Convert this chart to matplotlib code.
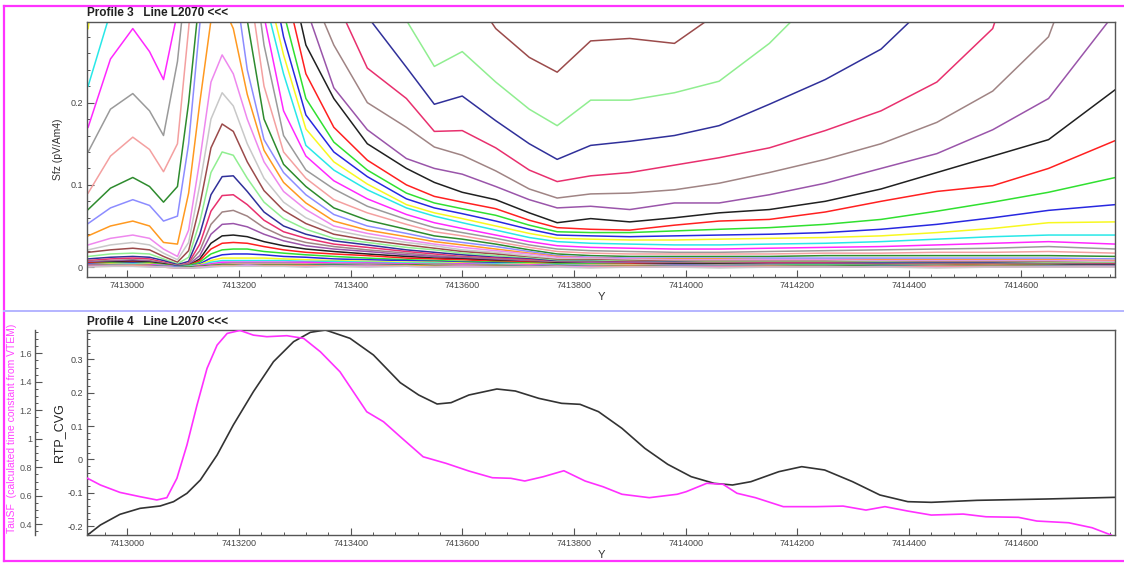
import matplotlib
matplotlib.use("Agg")
import matplotlib.pyplot as plt
from matplotlib.lines import Line2D
from matplotlib.ticker import MultipleLocator, FuncFormatter

plt.rcParams['font.family'] = ['Liberation Sans', 'DejaVu Sans']

# ---- Profile 3 : Sfz decay channels (values at shared stations, 0.5 = off the top) ----
station_y = [7412930, 7412970, 7413010, 7413040, 7413065, 7413090, 7413110, 7413130, 7413150, 7413170,
             7413190, 7413215, 7413245, 7413280, 7413320, 7413370, 7413430, 7413500, 7413550, 7413600,
             7413660, 7413720, 7413770, 7413830, 7413900, 7413980, 7414060, 7414150, 7414250, 7414350,
             7414450, 7414550, 7414650, 7414770]

sfz_channels = [
    [.5, .5, .5, .5, .5, .5, .5, .5, .5, .5,  .5, .5, .5, .5, .5, .5, .5, .5, .5, .35,
     .29, .255, .237, .275, .278, .272, .31, .5, .5, .5,  .5, .5, .5, .5],
    [.5, .5, .5, .5, .5, .5, .5, .5, .5, .5,  .5, .5, .5, .5, .5, .5, .5, .30, .244, .262,
     .225, .192, .172, .203, .203, .212, .226, .272, .34, .5,  .5, .5, .5, .5],
    [.5, .5, .5, .5, .5, .5, .5, .5, .5, .5,  .5, .5, .5, .5, .5, .5, .305, .243, .198, .208,
     .178, .150, .131, .148, .153, .160, .172, .198, .228, .265,  .33, .5, .5, .5],
    [.5, .5, .5, .5, .5, .5, .5, .5, .5, .5,  .5, .5, .5, .5, .5, .33, .242, .205, .165, .166,
     .145, .118, .104, .111, .115, .124, .133, .145, .166, .190,  .225, .29, .5, .5],
    [.5, .5, .5, .5, .5, .5, .5, .5, .5, .5,  .5, .5, .5, .5, .35, .27, .200, .170, .146, .136,
     .117, .095, .084, .089, .090, .094, .102, .115, .131, .150,  .176, .214, .28, .5],
    [.5, .5, .5, .5, .5, .5, .5, .5, .5, .5,  .5, .5, .5, .5, .316, .218, .167, .132, .120, .113,
     .098, .082, .072, .074, .070, .078, .078, .088, .102, .120,  .138, .167, .205, .31],
    [.5, .5, .5, .5, .5, .5, .5, .5, .5, .5,  .5, .5, .5, .39, .27, .205, .150, .120, .103, .091,
     .082, .066, .054, .059, .055, .060, .066, .070, .080, .095,  .115, .135, .155, .216],
    [.5, .5, .5, .5, .5, .5, .5, .5, .5, .5,  .5, .5, .5, .35, .235, .170, .130, .100, .086, .079,
     .071, .057, .048, .046, .045, .051, .056, .058, .067, .080,  .092, .099, .120, .154],
    [.5, .5, .5, .5, .5, .5, .5, .5, .5, .5,  .5, .5, .5, .31, .205, .152, .118, .090, .078, .071,
     .063, .051, .043, .042, .042, .044, .046, .048, .052, .058,  .068, .079, .091, .109],
    [.5, .5, .5, .5, .5, .5, .5, .5, .5, .5,  .5, .5, .40, .28, .185, .140, .110, .083, .072, .065,
     .056, .046, .039, .038, .037, .038, .039, .040, .042, .046,  .052, .060, .069, .076],
    [.29, .5, .5, .5, .5, .5, .5, .5, .5, .5,  .5, .5, .356, .258, .168, .128, .101, .076, .066, .059,
     .050, .041, .035, .034, .033, .033, .034, .035, .036, .038,  .042, .047, .054, .055],
    [.22, .31, .5, .5, .5, .5, .5, .5, .5, .5,  .5, .5, .33, .235, .148, .118, .094, .072, .062, .054,
     .045, .036, .031, .029, .028, .027, .027, .028, .029, .031,  .034, .037, .039, .039],
    [.170, .253, .290, .262, .228, .31, .5, .5, .5, .5,  .5, .5, .305, .19, .135, .105, .083, .064, .054, .047,
     .039, .031, .026, .024, .023, .022, .022, .023, .024, .025,  .027, .029, .031, .028],
    [.140, .192, .211, .190, .160, .25, .38, .5, .5, .5,  .5, .42, .27, .16, .118, .095, .074, .058, .048, .042,
     .035, .027, .022, .020, .019, .018, .018, .019, .020, .021,  .022, .023, .025, .022],
    [.090, .135, .158, .143, .116, .150, .29, .45, .5, .5,  .5, .36, .22, .14, .108, .082, .066, .052, .043, .038,
     .031, .024, .019, .017, .016, .016, .016, .016, .017, .017,  .018, .018, .019, .017],
    [.070, .096, .109, .098, .079, .098, .20, .333, .5, .5,  .5, .30, .18, .125, .098, .072, .057, .046, .038, .034,
     .028, .021, .016, .014, .013, .013, .013, .013, .014, .014,  .014, .014, .014, .013],
    [.053, .072, .082, .075, .056, .062, .150, .295, .45, .5,  .36, .24, .155, .115, .088, .064, .050, .041, .034, .030,
     .025, .019, .014, .012, .011, .011, .011, .011, .011, .011,  .011, .011, .011, .010],
    [.038, .050, .056, .050, .030, .028, .090, .200, .300, .320,  .290, .210, .142, .103, .078, .056, .045, .037, .031, .027,
     .022, .017, .013, .011, .010, .010, .010, .009, .009, .009,  .009, .009, .009, .008],
    [.027, .035, .039, .035, .022, .013, .045, .130, .225, .258,  .235, .180, .128, .092, .070, .050, .041, .033, .028, .024,
     .020, .016, .012, .011, .010, .009, .009, .009, .009, .008,  .008, .008, .008, .007],
    [.021, .027, .030, .027, .017, .009, .030, .100, .180, .212,  .196, .150, .108, .079, .060, .045, .037, .030, .026, .021,
     .018, .014, .010, .010, .009, .008, .008, .008, .008, .007,  .007, .007, .007, .006],
    [.018, .021, .023, .021, .013, .006, .020, .075, .145, .174,  .165, .128, .093, .069, .053, .040, .033, .027, .023, .019,
     .016, .012, .009, .009, .008, .007, .007, .007, .007, .006,  .006, .006, .006, .005],
    [.013, .016, .017, .016, .010, .004, .012, .055, .115, .140,  .136, .108, .079, .059, .046, .035, .030, .024, .021, .017,
     .014, .011, .008, .008, .007, .006, .006, .006, .006, .006,  .005, .005, .005, .005],
    [.010, .012, .013, .012, .008, .003, .007, .040, .088, .110,  .111, .092, .067, .050, .040, .032, .027, .021, .018, .015,
     .012, .010, .007, .007, .006, .006, .005, .005, .005, .005,  .005, .005, .004, .004],
    [.008, .010, .011, .010, .006, .002, .005, .028, .068, .087,  .088, .076, .057, .043, .035, .028, .024, .019, .016, .013,
     .011, .009, .006, .006, .006, .005, .005, .005, .005, .004,  .004, .004, .004, .004],
    [.007, .008, .009, .008, .005, .002, .004, .020, .052, .067,  .069, .062, .048, .037, .030, .025, .021, .017, .014, .012,
     .010, .008, .006, .006, .005, .005, .005, .004, .004, .004,  .004, .004, .004, .003],
    [.006, .007, .008, .007, .004, .001, .003, .014, .040, .052,  .053, .049, .040, .032, .026, .022, .019, .015, .013, .011,
     .009, .007, .005, .005, .005, .004, .004, .004, .004, .004,  .003, .003, .003, .003],
    [.005, .006, .007, .006, .004, .001, .002, .010, .029, .038,  .039, .037, .031, .026, .022, .019, .016, .013, .011, .010,
     .008, .006, .005, .004, .004, .004, .004, .003, .003, .003,  .003, .003, .003, .003],
    [.005, .005, .006, .005, .003, .001, .002, .008, .022, .029,  .030, .029, .025, .021, .018, .016, .014, .011, .010, .009,
     .007, .006, .004, .004, .004, .003, .003, .003, .003, .003,  .003, .003, .002, .002],
    [.004, .005, .005, .005, .003, .001, .002, .006, .016, .021,  .022, .022, .019, .017, .015, .013, .011, .009, .008, .007,
     .006, .005, .004, .004, .003, .003, .003, .003, .003, .002,  .002, .002, .002, .002],
    [.004, .004, .005, .004, .002, .001, .001, .004, .011, .015,  .016, .016, .015, .013, .012, .010, .009, .008, .007, .006,
     .005, .004, .003, .003, .003, .003, .002, .002, .002, .002,  .002, .002, .002, .002],
    [.003, .004, .004, .004, .002, .000, .001, .003, .008, .011,  .011, .011, .011, .010, .009, .008, .007, .006, .006, .005,
     .004, .004, .003, .003, .003, .002, .002, .002, .002, .002,  .002, .002, .002, .001],
    [.003, .003, .004, .003, .002, .000, .001, .002, .006, .008,  .008, .008, .008, .008, .007, .007, .006, .005, .005, .004,
     .004, .003, .003, .002, .002, .002, .002, .002, .002, .002,  .002, .001, .001, .001],
    [.003, .003, .003, .003, .002, .000, .000, .002, .004, .006,  .006, .006, .006, .006, .006, .005, .005, .004, .004, .004,
     .003, .003, .002, .002, .002, .002, .002, .002, .001, .001,  .001, .001, .001, .001],
    [.002, .003, .003, .002, .001, .000, .000, .001, .003, .004,  .005, .005, .005, .005, .004, .004, .004, .003, .004, .003,
     .003, .002, .002, .002, .001, .002, .001, .002, .001, .001,  .002, .001, .001, .001],
    [.002, .002, .003, .002, .001, .000, .000, .001, .002, .003,  .004, .004, .004, .004, .004, .003, .003, .003, .002, .003,
     .002, .002, .001, .002, .001, .001, .002, .001, .001, .001,  .001, .002, .001, .000],
    [.002, .002, .002, .002, .001, .000, .000, .001, .002, .003,  .003, .003, .003, .003, .003, .003, .002, .003, .002, .002,
     .002, .001, .002, .001, .001, .001, .001, .001, .001, .002,  .001, .001, .001, .000],
    [.001, .002, .002, .001, .001, .000, -.001, .000, .001, .002,  .002, .003, .002, .002, .002, .002, .002, .002, .001, .002,
     .001, .001, .001, .001, .000, .001, .001, .001, .000, .001,  .001, .000, .001, .000],
    [.001, .001, .002, .001, .000, -.001, -.001, .000, .001, .002,  .002, .002, .002, .002, .002, .001, .001, .002, .001, .001,
     .001, .000, .001, .000, .001, .000, .000, .001, .000, .000,  .001, .000, .000, .000],
    [.001, .001, .001, .001, .000, -.001, -.001, .000, .001, .001,  .001, .002, .001, .001, .001, .001, .001, .001, .000, .001,
     .000, .000, .001, .000, .000, .000, .000, .000, .000, .000,  .000, .000, .000, .000],
    [.000, .001, .001, .000, .000, -.001, -.001, -.001, .000, .001,  .001, .001, .001, .001, .000, .001, .000, .001, .000, .000,
     .000, .000, .000, -.001, .000, .000, -.001, .000, .000, .000,  -.001, .000, .000, .000],
]

channel_colors = ['#9b4b4b', '#90ee90', '#30309a', '#e8306e', '#a08484', '#9a55aa', '#202020',
                  '#ff2020', '#30e030', '#2828e0', '#f8f820', '#28e8e8', '#ff28ff', '#9a9a9a',
                  '#f4a0a0', '#2e8b2e', '#8c8cff', '#ff9920', '#ee88ee', '#c8c8c8']

# ---- Profile 4 : TauSF and RTP_CVG ----
tau_y = [7412929, 7412952, 7412987, 7413023, 7413053, 7413071, 7413089, 7413107, 7413125, 7413143,
         7413161, 7413179, 7413202, 7413226, 7413250, 7413286, 7413316, 7413346, 7413381, 7413429,
         7413459, 7413489, 7413530, 7413571, 7413612, 7413654, 7413687, 7413712, 7413745, 7413782,
         7413820, 7413852, 7413886, 7413935, 7413985, 7414001, 7414038, 7414067, 7414092, 7414125,
         7414175, 7414233, 7414282, 7414323, 7414357, 7414398, 7414440, 7414497, 7414538, 7414596,
         7414629, 7414686, 7414728, 7414762]
tau_sf = [0.723, 0.676, 0.624, 0.594, 0.571, 0.587, 0.723, 0.957, 1.237, 1.495,
          1.658, 1.740, 1.761, 1.728, 1.717, 1.724, 1.705, 1.611, 1.471, 1.190,
          1.120, 1.015, 0.874, 0.828, 0.774, 0.727, 0.723, 0.704, 0.734, 0.776,
          0.704, 0.664, 0.611, 0.587, 0.611, 0.629, 0.688, 0.681, 0.618, 0.587,
          0.524, 0.524, 0.528, 0.500, 0.524, 0.493, 0.465, 0.472, 0.453, 0.449,
          0.423, 0.411, 0.376, 0.325]

rtp_y = [7412929, 7412952, 7412987, 7413023, 7413059, 7413083, 7413107, 7413131, 7413161, 7413190,
         7413226, 7413262, 7413298, 7413328, 7413355, 7413399, 7413441, 7413489, 7413522, 7413555,
         7413580, 7413612, 7413662, 7413695, 7413737, 7413778, 7413811, 7413844, 7413886, 7413927,
         7413968, 7414010, 7414051, 7414084, 7414117, 7414167, 7414208, 7414249, 7414299, 7414348,
         7414398, 7414440, 7414522, 7414646, 7414769]
rtp_cvg = [-0.227, -0.197, -0.165, -0.147, -0.140, -0.127, -0.102, -0.062, 0.013, 0.103,
           0.203, 0.293, 0.353, 0.381, 0.388, 0.363, 0.313, 0.230, 0.193, 0.166,
           0.170, 0.193, 0.211, 0.205, 0.183, 0.168, 0.165, 0.143, 0.093, 0.033,
           -0.015, -0.052, -0.072, -0.077, -0.067, -0.037, -0.022, -0.032, -0.067, -0.107,
           -0.127, -0.129, -0.123, -0.119, -0.114]

W, H = 1124, 563
fig = plt.figure(figsize=(W / 100, H / 100), dpi=100)
fmt = FuncFormatter(lambda v, p: '%g' % round(v, 3))
xfmt = FuncFormatter(lambda v, p: '%d' % v)
spine_c = '#555555'


def style_axis(ax):
    for s in ax.spines.values():
        s.set_color(spine_c)
        s.set_linewidth(1.0)
    ax.set_xlim(7412928, 7414769)
    ax.xaxis.set_major_locator(MultipleLocator(200))
    ax.xaxis.set_minor_locator(MultipleLocator(40))
    ax.xaxis.set_major_formatter(xfmt)
    ax.tick_params(which='both', direction='in', colors=spine_c, labelcolor='#444444',
                   labelsize=6.5, top=False, right=False)
    ax.tick_params(which='major', length=5, width=0.8, pad=3)
    ax.tick_params(which='minor', length=2.5, width=0.7)
    ax.set_xlabel('Y', fontsize=8, labelpad=1, color='#333333')


# top panel
ax1 = fig.add_axes([87 / W, 1 - 277 / H, 1028 / W, 255 / H])
style_axis(ax1)
for k, vals in enumerate(sfz_channels):
    ax1.plot(station_y, vals, color=channel_colors[k % 20], lw=1.1)
ax1.set_ylim(-0.012, 0.298)
ax1.yaxis.set_major_locator(MultipleLocator(0.1))
ax1.yaxis.set_minor_locator(MultipleLocator(0.02))
ax1.yaxis.set_major_formatter(fmt)
ax1.set_ylabel('Sfz (pV/Am4)', fontsize=7.5, color='#333333')
ax1.yaxis.set_label_coords(-0.023, 0.5)

# bottom panel
ax2 = fig.add_axes([87 / W, 1 - 535 / H, 1028 / W, 205 / H])
style_axis(ax2)
ax2.plot(rtp_y, rtp_cvg, color='#333333', lw=1.2)
ax2.set_ylim(-0.227, 0.388)
ax2.yaxis.set_major_locator(MultipleLocator(0.1))
ax2.yaxis.set_minor_locator(MultipleLocator(0.02))
ax2.yaxis.set_major_formatter(fmt)
ax2.set_ylabel('RTP_CVG', fontsize=9, color='#222222')
ax2.yaxis.set_label_coords(-0.021, 0.5)

ax3 = ax2.twinx()
ax3.plot(tau_y, tau_sf, color='#ff30ff', lw=1.2)
ax3.set_ylim(0.325, 1.764)
for side in ('right', 'top', 'bottom'):
    ax3.spines[side].set_visible(False)
ax3.spines['left'].set_position(('axes', -0.0506))
ax3.spines['left'].set_color(spine_c)
ax3.spines['left'].set_linewidth(1.0)
ax3.yaxis.set_ticks_position('left')
ax3.yaxis.set_label_position('left')
ax3.yaxis.set_major_locator(MultipleLocator(0.2))
ax3.yaxis.set_minor_locator(MultipleLocator(0.05))
ax3.yaxis.set_major_formatter(fmt)
ax3.tick_params(which='both', direction='in', colors=spine_c, labelcolor='#555555', labelsize=6.5)
ax3.tick_params(which='major', length=5, width=0.8, pad=2)
ax3.tick_params(which='minor', length=2.5, width=0.7)
ax3.set_ylabel('TauSF  (calculated time constant from VTEM)', fontsize=7.5, color='#ff44ff')
ax3.yaxis.set_label_coords(-0.068, 0.52)

# titles
fig.text(87 / W, 1 - 16.5 / H, 'Profile 3   Line L2070 <<<', fontsize=8.5, fontweight='bold',
         va='baseline', ha='left', color='#222222')
fig.text(87 / W, 1 - 325 / H, 'Profile 4   Line L2070 <<<', fontsize=8.5, fontweight='bold',
         va='baseline', ha='left', color='#222222')

# panel frames
frame = [((4, 1124), (6, 6), '#ff33ff', 1.6), ((4, 4), (6, 561), '#ff33ff', 1.6),
         ((4, 1124), (561, 561), '#ff33ff', 1.6), ((4, 1124), (311, 311), '#b4b4ff', 1.4)]
for xs, ys, c, lw in frame:
    fig.add_artist(Line2D([x / W for x in xs], [1 - y / H for y in ys], color=c, lw=lw,
                          transform=fig.transFigure))

fig.savefig('out.png', dpi=100)
